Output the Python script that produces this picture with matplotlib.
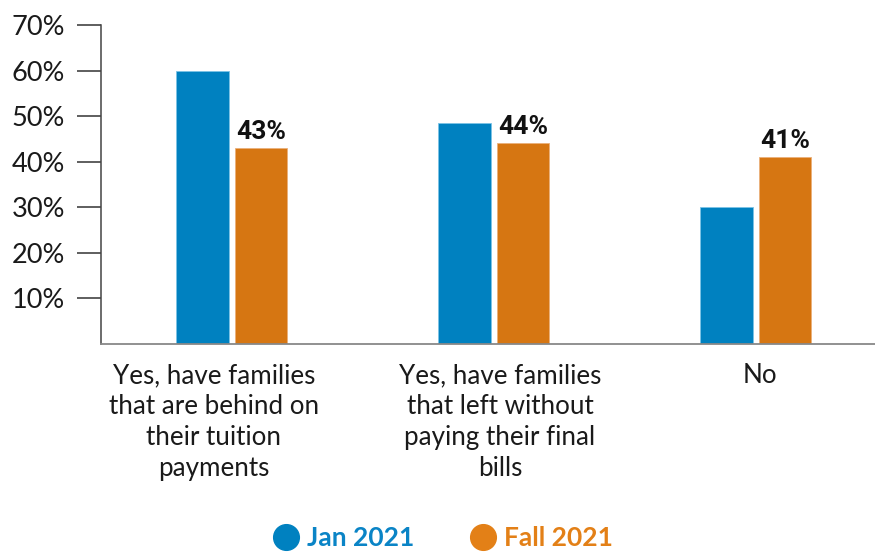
import numpy as np
import matplotlib
matplotlib.use("Agg")
import matplotlib.pyplot as plt
import matplotlib.transforms as mtransforms
from matplotlib.lines import Line2D

plt.rcParams['font.family'] = ['Lato', 'DejaVu Sans']

categories = ["Yes, have families\nthat are behind on\ntheir tuition\npayments",
              "Yes, have families\nthat left without\npaying their final\nbills",
              "No"]
jan_2021 = [60, 48.5, 30]
fall_2021 = [43, 44, 41]
fall_labels = ["43%", "44%", "41%"]
yticks = [10, 20, 30, 40, 50, 60, 70]
ytick_labels = ["10%", "20%", "30%", "40%", "50%", "60%", "70%"]

BLUE = "#0081c0"
ORANGE = "#d67612"
BLUE_TXT = "#0a84c6"
ORANGE_TXT = "#e38017"

fig = plt.figure(figsize=(8.75, 5.52), dpi=100)
ax = fig.add_axes([101 / 875, 1 - 344 / 552, 1 - 101 / 875, (344 - 25) / 552])

x = np.arange(len(categories))
w = 0.2
off = 0.112
ax.bar(x - off, jan_2021, w, color=BLUE, edgecolor="#7cc3e6", linewidth=0.6)
b2 = ax.bar(x + off, fall_2021, w, color=ORANGE, edgecolor="#eab07a", linewidth=0.6)
for rect, lab in zip(b2, fall_labels):
    ax.annotate(lab, (rect.get_x() + rect.get_width() / 2, rect.get_height()),
                xytext=(0, 3), textcoords="offset points", ha="center", va="bottom",
                fontsize=19, fontweight="bold", family=["Roboto", "DejaVu Sans"], color="#111111")

ax.set_xlim(-0.5, 2.455)
ax.set_ylim(0, 70)
ax.set_yticks(yticks)
ax.set_yticklabels(ytick_labels, fontsize=19.5, color="#1a1a1a")
ax.tick_params(axis="y", length=17, width=1.1, color="#333333", pad=9)
ax.set_xticks(x)
ax.set_xticklabels(categories, fontsize=18.7, color="#1a1a1a", linespacing=1.29)
ax.tick_params(axis="x", length=0, pad=14)
# the original labels are nudged sideways a little from the bar centres
for lbl, dx in zip(ax.get_xticklabels(), [-18, 6, 4]):
    lbl.set_transform(lbl.get_transform() + mtransforms.ScaledTranslation(dx / 100, 0, fig.dpi_scale_trans))
for s in ["top", "right"]:
    ax.spines[s].set_visible(False)
ax.spines["left"].set_color("#444444")
ax.spines["left"].set_linewidth(1.1)
ax.spines["bottom"].set_color("#888888")
ax.spines["bottom"].set_linewidth(1.3)

handles = [Line2D([], [], marker="o", ls="", markersize=18.5, color=BLUE),
           Line2D([], [], marker="o", ls="", markersize=18.5, color=ORANGE_TXT)]
leg = fig.legend(handles, ["Jan 2021", "Fall 2021"], loc="center", bbox_to_anchor=(0.505, 1 - 538 / 552),
                 ncol=2, frameon=False, handletextpad=0.2, columnspacing=2.0, handlelength=1.2,
                 prop={"size": 19, "weight": "bold", "family": "Lato"})
for t, c in zip(leg.get_texts(), [BLUE_TXT, ORANGE_TXT]):
    t.set_color(c)

fig.savefig("out.png", dpi=100)
